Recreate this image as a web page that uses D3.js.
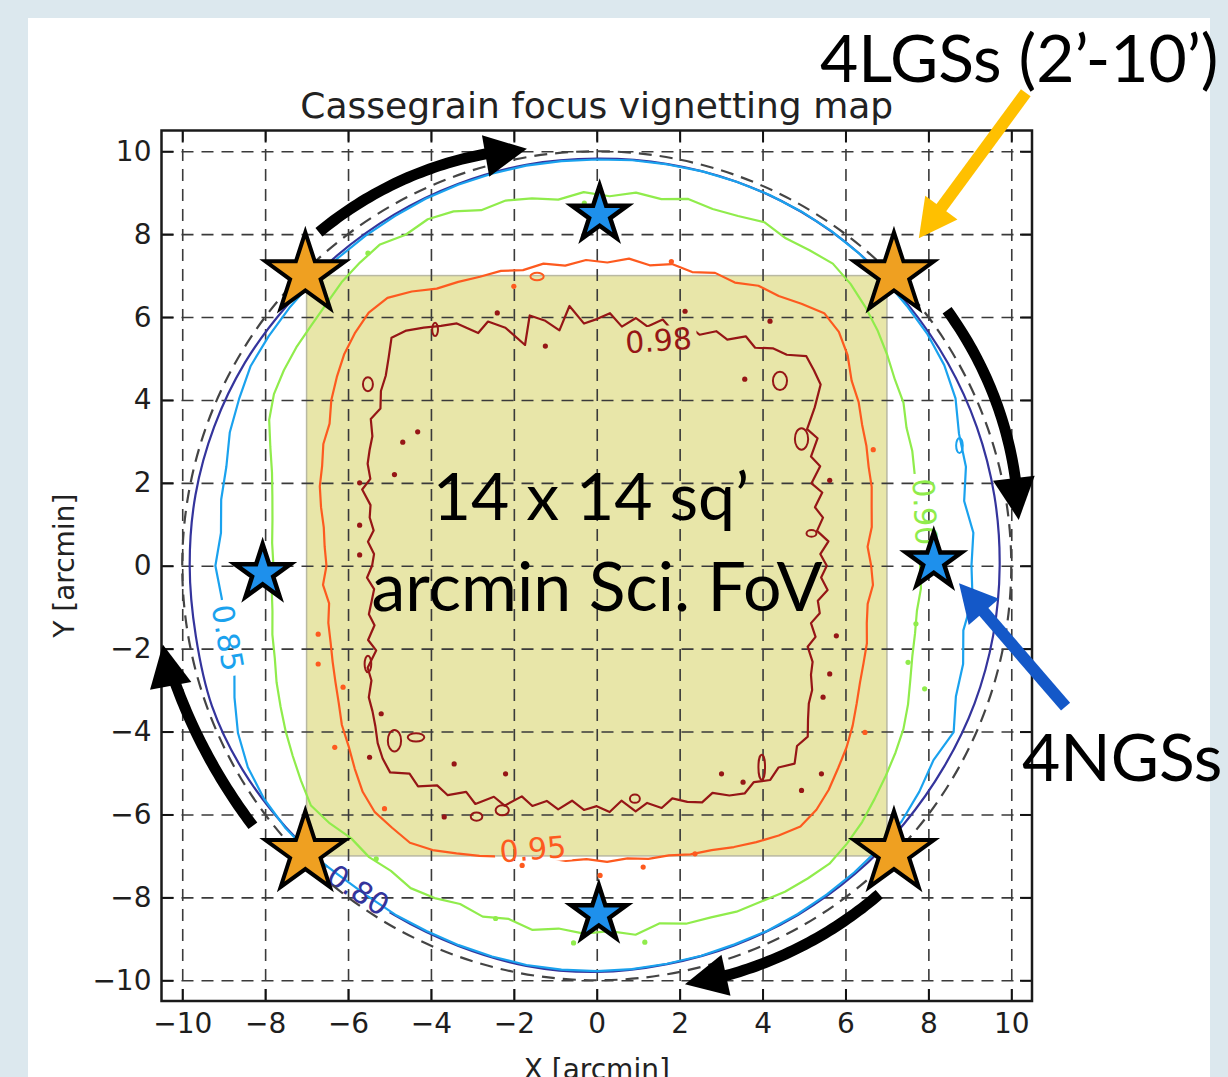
<!DOCTYPE html>
<html>
<head>
<meta charset="utf-8">
<script src="https://cdn.jsdelivr.net/npm/d3@7"></script>
<style>
  html, body { margin: 0; padding: 0; background: #dce8ee; }
  svg { display: block; }
</style>
</head>
<body>
<div class="chart"></div>
<script>
// ---- data (arcmin) ----
const tickValues = [-10, -8, -6, -4, -2, 0, 2, 4, 6, 8, 10];
const tickLabels = ["−10", "−8", "−6", "−4", "−2", "0", "2", "4", "6", "8", "10"];

const levels = ["0.80", "0.85", "0.90", "0.95", "0.98"];
const levelColors = ["#34349c", "#1aa2ee", "#90ec4c", "#fd5a1f", "#961616"];
const angleSteps = [10, 5, 4, 4, 3];   // degrees between radii below

// contour radius (arcmin) vs angle, starting at +x and going anticlockwise
const r80 = [9.72, 9.74, 9.76, 9.78, 9.80, 9.84, 9.86, 9.86, 9.84, 9.82, 9.82, 9.80,
             9.78, 9.76, 9.76, 9.80, 9.82, 9.83, 9.82, 9.82, 9.88, 9.86, 9.80, 9.74,
             9.74, 9.76, 9.80, 9.80, 9.76, 9.74, 9.72, 9.70, 9.68, 9.68, 9.70, 9.71];
const r85 = [9.04, 9.12, 9.00, 9.22, 9.30, 9.55, 9.68, 9.74, 9.76, 9.80, 9.84, 9.86,
             9.87, 9.87, 9.86, 9.85, 9.83, 9.82, 9.80, 9.80, 9.80, 9.79, 9.78, 9.77,
             9.74, 9.72, 9.70, 9.70, 9.68, 9.66, 9.64, 9.52, 9.42, 9.25, 9.20, 9.10,
             9.20, 9.08, 9.10, 9.05, 9.30, 9.55, 9.72, 9.80, 9.82, 9.80, 9.72, 9.70,
             9.72, 9.72, 9.74, 9.76, 9.78, 9.78, 9.78, 9.77, 9.75, 9.74, 9.72, 9.72,
             9.70, 9.68, 9.66, 9.64, 9.60, 9.50, 9.38, 9.50, 9.22, 9.15, 8.98, 9.10];
const r90 = [7.80, 7.86, 7.82, 7.92, 7.98, 8.10, 8.18, 8.38, 8.48, 8.66, 8.84, 9.00,
             9.15, 9.25, 9.18, 9.12, 9.22, 9.10, 9.05, 9.12, 8.98, 9.05, 8.92, 9.02,
             8.88, 9.00, 9.08, 9.02, 9.22, 9.30, 9.22, 9.35, 9.28, 9.20, 9.08, 9.00,
             8.96, 8.90, 8.82, 8.65, 8.38, 8.15, 8.00, 7.90, 7.85, 7.80, 7.86, 7.90,
             8.00, 8.08, 8.22, 8.35, 8.50, 8.65, 8.82, 9.00, 8.95, 8.85, 8.92, 8.88,
             8.98, 8.92, 8.80, 8.90, 8.78, 8.92, 8.80, 8.88, 8.82, 8.95, 8.76, 8.90,
             8.92, 9.00, 9.02, 9.08, 9.10, 9.12, 9.02, 8.90, 8.75, 8.62, 8.50, 8.38,
             8.22, 8.05, 7.92, 7.85, 7.80, 7.84];
const r95 = [6.62, 6.55, 6.70, 6.78, 6.90, 6.98, 7.12, 7.25, 7.45, 7.60, 7.90, 8.12,
             8.20, 8.02, 7.85, 7.80, 7.60, 7.62, 7.45, 7.50, 7.36, 7.45, 7.32, 7.38,
             7.28, 7.40, 7.35, 7.48, 7.52, 7.62, 7.72, 7.98, 8.20, 8.22, 8.10, 7.95,
             7.75, 7.55, 7.30, 7.22, 7.05, 6.95, 6.80, 6.65, 6.58, 6.52, 6.62, 6.52,
             6.62, 6.68, 6.78, 6.90, 7.05, 7.25, 7.40, 7.62, 7.85, 8.00, 8.02, 8.06,
             7.92, 7.72, 7.55, 7.38, 7.30, 7.15, 7.16, 7.08, 7.15, 7.10, 7.18, 7.20,
             7.32, 7.40, 7.55, 7.70, 7.85, 7.98, 7.92, 7.78, 7.60, 7.45, 7.28, 7.10,
             6.95, 6.85, 6.78, 6.66, 6.60, 6.68];
const r98 = [5.55, 5.40, 5.62, 5.38, 5.58, 5.45, 5.72, 5.55, 5.90, 5.80, 6.15, 6.05,
             6.50, 6.95, 7.05, 7.15, 6.85, 6.75, 6.50, 6.60, 6.30, 6.35, 6.10, 6.20,
             5.95, 6.15, 5.90, 6.05, 5.80, 6.10, 5.95, 5.85, 6.30, 5.75, 6.05, 6.25,
             5.60, 6.15, 6.45, 6.30, 6.75, 6.90, 7.10, 7.30, 7.40, 7.10, 6.85, 6.70,
             6.45, 6.50, 6.25, 6.15, 6.05, 5.85, 5.95, 5.65, 5.60, 5.45, 5.55, 5.38,
             5.42, 5.55, 5.40, 5.50, 5.62, 5.55, 5.80, 5.70, 6.05, 6.10, 6.35, 6.45,
             6.60, 6.80, 6.95, 7.05, 6.75, 6.85, 6.55, 6.60, 6.30, 6.45, 6.10, 6.20,
             5.85, 6.00, 5.80, 5.95, 5.70, 5.90, 5.80, 5.95, 5.70, 6.00, 5.85, 6.05,
             5.90, 6.10, 6.25, 6.15, 6.40, 6.55, 6.45, 6.65, 6.55, 6.75, 6.50, 6.55,
             6.30, 6.10, 6.00, 5.80, 5.70, 5.45, 5.55, 5.35, 5.50, 5.40, 5.60, 5.42];
const contourRadii = [r80, r85, r90, r95, r98];

// small closed islands [level, cx, cy, rx, ry] and isolated specks [level, cx, cy]
const loops = [
  [1, 8.75, 2.9, 0.08, 0.18],
  [3, -1.44, 6.98, 0.16, 0.09],
  [4, -5.52, 4.38, 0.12, 0.17], [4, -3.9, 5.7, 0.07, 0.16], [4, 4.42, 4.46, 0.17, 0.22],
  [4, 4.94, 3.06, 0.16, 0.26], [4, 5.18, 0.78, 0.12, 0.08], [4, -4.88, -4.22, 0.16, 0.26],
  [4, -4.36, -4.14, 0.2, 0.1], [4, -2.28, -5.9, 0.16, 0.12], [4, -5.52, -2.37, 0.08, 0.2],
  [4, 3.98, -4.86, 0.08, 0.3], [4, 0.92, -5.62, 0.12, 0.1], [4, -2.9, -6.05, 0.14, 0.1]
];
const specks = [
  [2, -5.32, -7.07], [2, -2.44, -8.51], [2, -0.56, -9.1], [2, 7.51, -2.33], [2, 7.91, -2.97],
  [2, 1.16, -9.08], [2, -5.52, 7.54], [2, -0.3, 8.75], [2, 7.7, -1.4],
  [3, -2.0, 6.74], [3, 6.67, 2.8], [3, 1.8, 7.34], [3, -6.72, -1.65], [3, -6.72, -2.37],
  [3, -6.12, -2.93], [3, -6.32, -4.38], [3, -5.12, -5.86], [3, -1.8, -7.23], [3, 6.47, -4.02],
  [3, 1.12, -7.27], [3, 0.08, -7.47], [3, 2.37, -6.95],
  [4, -2.4, 6.1], [4, -1.24, 5.3], [4, -4.68, 2.98], [4, -4.32, 3.23], [4, -4.88, 2.2],
  [4, -5.72, 2.0], [4, -5.72, 0.98], [4, -5.72, 0.26], [4, 3.57, 4.5], [4, 5.62, 2.06],
  [4, 2.13, 6.14], [4, 4.18, 5.9], [4, -5.2, -3.57], [4, -5.48, -4.62], [4, -3.44, -4.78],
  [4, -2.2, -5.02], [4, -3.68, -6.06], [4, 3.01, -5.02], [4, 3.53, -5.22], [4, 4.94, -5.42],
  [4, 5.42, -5.02], [4, 5.78, -1.69], [4, 5.62, -2.61], [4, 5.46, -3.17]
];

// inline contour labels
const labelLevel = [0, 1, 2, 3, 4];
const labelX = [-5.75, -8.9, 7.92, -1.54, 1.49];
const labelY = [-7.82, -1.74, 1.3, -6.83, 5.44];
const labelRot = [33, 80, 87, -5, -4];

// science field of view (arcmin)
const fovHalf = 7;
const patrolRadius = 10;

// guide stars
const lgsX = [-7.03, 7.17, -7.03, 7.17];
const lgsY = [7.03, 7.03, -6.93, -6.93];
const ngsX = [0.07, -8.06, 8.13, 0.05];
const ngsY = [8.47, -0.18, 0.1, -8.41];

// rotation arrows: angle (deg) and radius (arcmin) at start and at tip
const rotFrom = [129.8, 36.1, -49.3, 217.1];
const rotTo = [99.5, 6.2, -78.1, 190.3];
const rotR0 = [10.47, 10.46, 10.45, 10.4];
const rotR1 = [10.2, 10.24, 10.32, 10.64];

// callout arrows [x0, y0, x1, y1]
const lgsArrow = [10.35, 11.41, 7.77, 7.9];
const ngsArrow = [11.31, -3.4, 8.74, -0.42];

// ---- drawing ----
const W = 1228, H = 1077;
const svg = d3.select(".chart").append("svg").attr("width", W).attr("height", H);

svg.append("rect").attr("x", 28).attr("y", 18).attr("width", 1182).attr("height", H - 18)
  .attr("fill", "white");

const x = d3.scaleLinear().domain([-10.5, 10.5]).range([161.5, 1032]);
const y = d3.scaleLinear().domain([-10.5, 10.5]).range([1001, 130.5]);
const side = x(10.5) - x(-10.5);
const defs = svg.append("defs");

// field of view box
svg.append("rect")
  .attr("x", x(-fovHalf)).attr("y", y(fovHalf))
  .attr("width", x(fovHalf) - x(-fovHalf)).attr("height", y(-fovHalf) - y(fovHalf))
  .attr("fill", "#e8e6a9").attr("stroke", "#b9b9a2").attr("stroke-width", 1.5);

// grid
svg.append("g").attr("transform", `translate(0,${y(-10.5)})`)
  .call(d3.axisBottom(x).tickValues(tickValues).tickSize(-side).tickFormat(""))
  .call(g => g.select(".domain").remove())
  .selectAll("line").attr("stroke", "#3a3a3a").attr("stroke-width", 1.6).attr("stroke-dasharray", "12,8");
svg.append("g").attr("transform", `translate(${x(-10.5)},0)`)
  .call(d3.axisLeft(y).tickValues(tickValues).tickSize(-side).tickFormat(""))
  .call(g => g.select(".domain").remove())
  .selectAll("line").attr("stroke", "#3a3a3a").attr("stroke-width", 1.6).attr("stroke-dasharray", "12,8");

// contour masks (gaps under the inline labels)
const masks = levels.map((lv, k) => {
  const m = defs.append("mask").attr("id", "gap" + k).attr("maskUnits", "userSpaceOnUse")
    .attr("x", 0).attr("y", 0).attr("width", W).attr("height", H);
  m.append("rect").attr("width", W).attr("height", H).attr("fill", "white");
  return m;
});

const polar = (radii, step) => radii.map((r, i) => {
  const a = i * step * Math.PI / 180;
  return [r * Math.cos(a), r * Math.sin(a)];
});
const linePath = d3.line().x(d => x(d[0])).y(d => y(d[1]));

const contourG = svg.append("g");
contourRadii.forEach((radii, k) => {
  const g = contourG.append("g").attr("mask", `url(#gap${k})`);
  g.append("path")
    .attr("d", linePath.curve(k === 0 ? d3.curveCatmullRomClosed : d3.curveLinearClosed)(polar(radii, angleSteps[k])))
    .attr("fill", "none").attr("stroke", levelColors[k]).attr("stroke-width", 2.2)
    .attr("stroke-linejoin", "round");
});
contourG.selectAll("ellipse.loop").data(loops).join("ellipse")
  .attr("cx", d => x(d[1])).attr("cy", d => y(d[2]))
  .attr("rx", d => x(d[3]) - x(0)).attr("ry", d => x(d[4]) - x(0))
  .attr("fill", "none").attr("stroke", d => levelColors[d[0]]).attr("stroke-width", 2);
contourG.selectAll("circle.speck").data(specks).join("circle")
  .attr("cx", d => x(d[1])).attr("cy", d => y(d[2])).attr("r", 2.6)
  .attr("fill", d => levelColors[d[0]]);

// contour labels
const labG = svg.append("g").attr("font-family", "DejaVu Sans").attr("font-size", 30);
labelLevel.forEach((k, i) => {
  const px = x(labelX[i]), py = y(labelY[i]);
  const t = labG.append("text")
    .attr("transform", `translate(${px},${py}) rotate(${labelRot[i]})`)
    .attr("text-anchor", "middle").attr("dy", "0.36em")
    .attr("fill", levelColors[k]).text(levels[k]);
  const w = t.node().getComputedTextLength();
  masks[k].append("rect")
    .attr("x", -w / 2 - 5).attr("y", -14).attr("width", w + 10).attr("height", 28)
    .attr("transform", `translate(${px},${py}) rotate(${labelRot[i]})`)
    .attr("fill", "black");
});

// patrol circle
svg.append("circle").attr("cx", x(0)).attr("cy", y(0)).attr("r", x(patrolRadius) - x(0))
  .attr("fill", "none").attr("stroke", "#444").attr("stroke-width", 2.2)
  .attr("stroke-dasharray", "13,8");

// axes: inward ticks on all four sides
const tickFmt = (d, i) => tickLabels[i];
const axFont = g => g.selectAll("text").attr("font-family", "DejaVu Sans").attr("font-size", 28).attr("fill", "#1e1e1e");
const axLine = g => { g.select(".domain").remove(); g.selectAll("line").attr("stroke", "#111").attr("stroke-width", 2); };
svg.append("g").attr("transform", `translate(0,${y(-10.5)})`)
  .call(d3.axisBottom(x).tickValues(tickValues).tickSize(-12).tickPadding(12).tickFormat(tickFmt))
  .call(axLine).call(axFont);
svg.append("g").attr("transform", `translate(${x(-10.5)},0)`)
  .call(d3.axisLeft(y).tickValues(tickValues).tickSize(-12).tickPadding(10).tickFormat(tickFmt))
  .call(axLine).call(axFont);
svg.append("g").attr("transform", `translate(0,${y(10.5)})`)
  .call(d3.axisTop(x).tickValues(tickValues).tickSize(-12).tickFormat(""))
  .call(axLine);
svg.append("g").attr("transform", `translate(${x(10.5)},0)`)
  .call(d3.axisRight(y).tickValues(tickValues).tickSize(-12).tickFormat(""))
  .call(axLine);
svg.append("rect").attr("x", x(-10.5)).attr("y", y(10.5)).attr("width", side).attr("height", side)
  .attr("fill", "none").attr("stroke", "#1a1a1a").attr("stroke-width", 2.5);

// titles
svg.append("text").attr("x", x(0)).attr("y", 118).attr("text-anchor", "middle")
  .attr("font-family", "DejaVu Sans").attr("font-size", 36).attr("fill", "#222")
  .text("Cassegrain focus vignetting map");
svg.append("text").attr("transform", `translate(74,${y(0)}) rotate(-90)`).attr("text-anchor", "middle")
  .attr("font-family", "DejaVu Sans").attr("font-size", 28).attr("fill", "#222")
  .text("Y [arcmin]");
svg.append("text").attr("x", x(0)).attr("y", 1079).attr("text-anchor", "middle")
  .attr("font-family", "DejaVu Sans").attr("font-size", 28).attr("fill", "#222")
  .text("X [arcmin]");

// stars
const star = d3.symbol().type(d3.symbolStar);
svg.append("g").selectAll("path").data(d3.range(lgsX.length)).join("path")
  .attr("transform", i => `translate(${x(lgsX[i])},${y(lgsY[i])})`)
  .attr("d", star.size(1980)())
  .attr("fill", "#efa021").attr("stroke", "#000").attr("stroke-width", 4);
svg.append("g").selectAll("path").data(d3.range(ngsX.length)).join("path")
  .attr("transform", i => `translate(${x(ngsX[i])},${y(ngsY[i])})`)
  .attr("d", star.size(950)())
  .attr("fill", "#1e90ec").attr("stroke", "#000").attr("stroke-width", 4.5);

// arrow helpers
function head(g, tip, dir, len, wid, color) {
  const bx = tip[0] - dir[0] * len, by = tip[1] - dir[1] * len;
  const nx = -dir[1] * wid / 2, ny = dir[0] * wid / 2;
  g.append("path").attr("d", `M${tip[0]},${tip[1]}L${bx + nx},${by + ny}L${bx - nx},${by - ny}Z`)
    .attr("fill", color);
}
function arcPoint(a, r) { return [x(r * Math.cos(a * Math.PI / 180)), y(r * Math.sin(a * Math.PI / 180))]; }

const arrowG = svg.append("g");
rotFrom.forEach((a0, i) => {
  const a1 = rotTo[i], r0 = rotR0[i], r1 = rotR1[i];
  const rAt = t => r0 + (r1 - r0) * t * t;
  const headLen = 42;
  const span = a1 - a0;
  const rpx = x(r1) - x(0);
  const cut = (headLen - 4) / rpx * 180 / Math.PI / Math.abs(span);
  const pts = d3.range(0, 41).map(j => {
    const t = j / 40 * (1 - cut);
    return arcPoint(a0 + span * t, rAt(t));
  });
  arrowG.append("path").attr("d", d3.line()(pts))
    .attr("fill", "none").attr("stroke", "#000").attr("stroke-width", 11);
  const tip = arcPoint(a1, rAt(1));
  const prev = arcPoint(a1 - Math.sign(span) * 1, rAt(1));
  const dx = tip[0] - prev[0], dy = tip[1] - prev[1], dl = Math.hypot(dx, dy);
  head(arrowG, tip, [dx / dl, dy / dl], headLen, 42, "#000");
});

function straightArrow(a, color, width, len, wid) {
  const p0 = [x(a[0]), y(a[1])], p1 = [x(a[2]), y(a[3])];
  const dx = p1[0] - p0[0], dy = p1[1] - p0[1], dl = Math.hypot(dx, dy);
  const dir = [dx / dl, dy / dl];
  arrowG.append("line").attr("x1", p0[0]).attr("y1", p0[1])
    .attr("x2", p1[0] - dir[0] * (len - 4)).attr("y2", p1[1] - dir[1] * (len - 4))
    .attr("stroke", color).attr("stroke-width", width);
  head(arrowG, p1, dir, len, wid, color);
}
straightArrow(lgsArrow, "#ffc000", 12, 38, 40);
straightArrow(ngsArrow, "#1458c8", 12, 38, 40);

// slide annotations
const note = (txt, px, py, anchor, size) => svg.append("text").attr("x", px).attr("y", py)
  .attr("text-anchor", anchor).attr("font-family", "Lato").attr("font-size", size)
  .attr("fill", "#000").text(txt);
note("4LGSs (2’-10’)", 820, 82, "start", 66);
note("4NGSs", 1022, 781, "start", 66);
note("14 x 14 sq’", 591, 520, "middle", 66);
note("arcmin Sci. FoV", 597, 611, "middle", 68);
</script>
</body>
</html>
